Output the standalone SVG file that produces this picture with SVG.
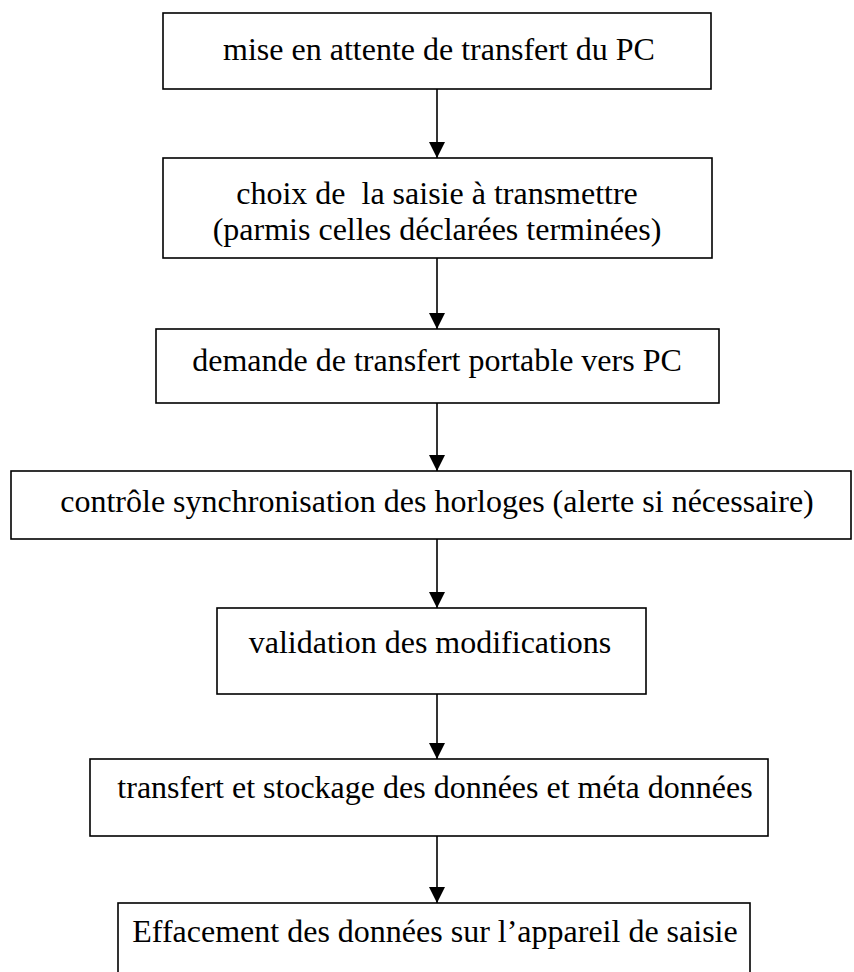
<svg xmlns="http://www.w3.org/2000/svg" width="854" height="972" viewBox="0 0 854 972">
<style>
.box{fill:#fff;stroke:#000;stroke-width:1.6}
.t{font-family:"Liberation Serif","Times New Roman",serif;font-size:32px;fill:#000;text-anchor:middle}
.c{stroke:#000;stroke-width:1.6;fill:none;marker-end:url(#ah)}
</style>
<defs>
<marker id="ah" markerUnits="userSpaceOnUse" markerWidth="16" markerHeight="16" refX="16" refY="8" orient="auto" viewBox="0 0 16 16">
<path d="M0,0 L16,8 L0,16 Z" fill="#000"/>
</marker>
</defs>
<rect width="854" height="972" fill="#fff"/>
<g id="connectors">
<line class="c" x1="437" y1="89" x2="437" y2="158"/>
<line class="c" x1="437" y1="258" x2="437" y2="329"/>
<line class="c" x1="437" y1="403" x2="437" y2="471"/>
<line class="c" x1="437" y1="539" x2="437" y2="608"/>
<line class="c" x1="437" y1="694" x2="437" y2="759"/>
<line class="c" x1="437" y1="836" x2="437" y2="903"/>
</g>
<g id="n1">
<rect class="box" x="163" y="13" width="548" height="76"/>
<text class="t" x="439" y="60">mise en attente de transfert du PC</text>
</g>
<g id="n2">
<rect class="box" x="163" y="158" width="549" height="100"/>
<text class="t" x="437" y="204" xml:space="preserve">choix de  la saisie à transmettre</text>
<text class="t" x="437" y="240">(parmis celles déclarées terminées)</text>
</g>
<g id="n3">
<rect class="box" x="156" y="329" width="563" height="74"/>
<text class="t" x="437" y="371">demande de transfert portable vers PC</text>
</g>
<g id="n4">
<rect class="box" x="11" y="471" width="840" height="68"/>
<text class="t" x="437" y="512">contrôle synchronisation des horloges (alerte si nécessaire)</text>
</g>
<g id="n5">
<rect class="box" x="217" y="608" width="429" height="86"/>
<text class="t" x="430" y="653">validation des modifications</text>
</g>
<g id="n6">
<rect class="box" x="90" y="759" width="678" height="77"/>
<text class="t" x="435" y="798">transfert et stockage des données et méta données</text>
</g>
<g id="n7">
<rect class="box" x="118" y="903" width="632" height="90"/>
<text class="t" x="435" y="942">Effacement des données sur l’appareil de saisie</text>
</g>
</svg>
